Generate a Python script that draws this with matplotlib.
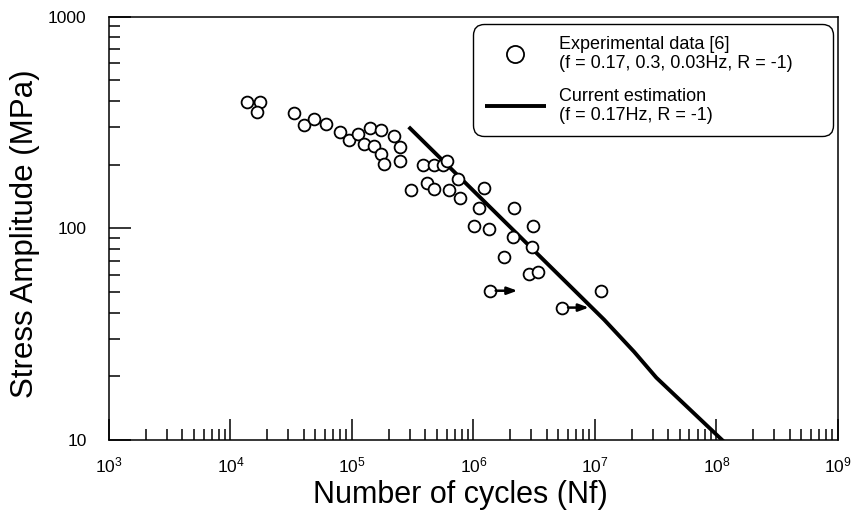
import matplotlib
matplotlib.use("Agg")
import matplotlib.pyplot as plt
from matplotlib.ticker import LogLocator, NullFormatter, FuncFormatter

plt.rcParams['font.family'] = ['Liberation Sans', 'DejaVu Sans']
plt.rcParams['mathtext.fontset'] = 'custom'
plt.rcParams['mathtext.rm'] = 'Liberation Sans'

# experimental data [6]
exp_cycles = [1.38e4, 1.76e4, 1.66e4, 3.36e4, 4.06e4, 4.91e4, 6.17e4, 7.9e4, 9.38e4,
              1.13e5, 1.25e5, 1.42e5, 1.72e5, 1.51e5, 1.75e5, 1.82e5, 2.2e5, 2.47e5,
              2.47e5, 3.05e5, 3.83e5, 4.71e5, 5.6e5, 6.04e5, 4.13e5, 4.71e5, 6.27e5,
              7.43e5, 7.73e5, 1.22e6, 1.11e6, 2.15e6, 1.01e6, 1.34e6, 3.09e6, 2.11e6,
              3.03e6, 1.78e6, 2.86e6, 3.4e6, 1.12e7]
exp_stress = [395, 395, 355, 351, 308, 329, 311, 285, 261,
              279, 251, 298, 292, 245, 224, 201, 273, 242,
              208, 152, 199, 199, 199, 208, 164, 154, 152,
              171, 139, 155, 124, 125, 103, 99.5, 103, 91.2,
              81.8, 73.4, 61, 62.3, 50.7]

# run-outs (no failure) with arrows
runout_cycles = [1.36e6, 5.36e6]
runout_stress = [50.7, 42.2]
runout_arrow_end = [2.3e6, 8.9e6]

# current estimation
est_cycles = [2.93e5, 1.19e7, 2.1e7, 3.2e7, 1.2e8]
est_stress = [301, 37.0, 26.1, 19.7, 9.6]

fig = plt.figure(figsize=(8.54, 5.18), dpi=100)
ax = fig.add_axes([0.1276, 0.1506, 0.8536, 0.8175])

ax.plot(est_cycles, est_stress, color='black', lw=2.8, solid_capstyle='butt',
        label='Current estimation\n(f = 0.17Hz, R = -1)', zorder=2)
ax.plot(exp_cycles + runout_cycles, exp_stress + runout_stress, linestyle='none',
        marker='o', ms=8.5, mfc='white', mec='black', mew=1.3, zorder=3,
        label='Experimental data [6]\n(f = 0.17, 0.3, 0.03Hz, R = -1)')
for x0, y0, x1 in zip(runout_cycles, runout_stress, runout_arrow_end):
    ax.annotate('', xy=(x1, y0), xytext=(x0 * 1.12, y0),
                arrowprops=dict(arrowstyle='-|>,head_length=0.6,head_width=0.22',
                                color='black', lw=1.8, shrinkA=0, shrinkB=0))

ax.set_xscale('log')
ax.set_yscale('log')
ax.set_xlim(1e3, 1e9)
ax.set_ylim(10, 1000)

ax.xaxis.set_minor_locator(LogLocator(base=10, subs=range(2, 10)))
ax.yaxis.set_minor_locator(LogLocator(base=10, subs=range(2, 10)))
ax.xaxis.set_minor_formatter(NullFormatter())
ax.yaxis.set_minor_formatter(NullFormatter())
ax.yaxis.set_major_formatter(FuncFormatter(lambda v, p: f'{v:g}'))

ax.tick_params(which='both', direction='in', top=False, right=False, width=1.1,
               labelsize=12.5, colors='black')
ax.tick_params(axis='x', which='major', length=15, pad=11)
ax.tick_params(axis='y', which='major', length=16, pad=16)
ax.tick_params(which='minor', length=8)
for s in ax.spines.values():
    s.set_linewidth(1.1)

ax.set_xlabel('Number of cycles (Nf)', fontsize=22)
ax.set_ylabel('Stress Amplitude (MPa)', fontsize=22.5)
ax.xaxis.set_label_coords(0.482, -0.094)
ax.yaxis.set_label_coords(-0.095, 0.4876)

h, l = ax.get_legend_handles_labels()
leg = ax.legend(h[::-1], l[::-1], loc='upper left',
                bbox_to_anchor=(0.4993, 0.0, 0.4938, 0.982), mode='expand',
                fontsize=13, frameon=True, fancybox=True, edgecolor='black',
                handlelength=3.4, handletextpad=0.7, borderpad=0.65,
                labelspacing=0.85, borderaxespad=0, markerscale=1.45)
leg.get_frame().set_linewidth(1.0)
leg.get_frame().set_alpha(1)
leg.get_frame().set_boxstyle('round,pad=0,rounding_size=0.6')
for t in leg.get_texts():
    t.set_linespacing(1.2)

fig.savefig('out.png', dpi=100)
